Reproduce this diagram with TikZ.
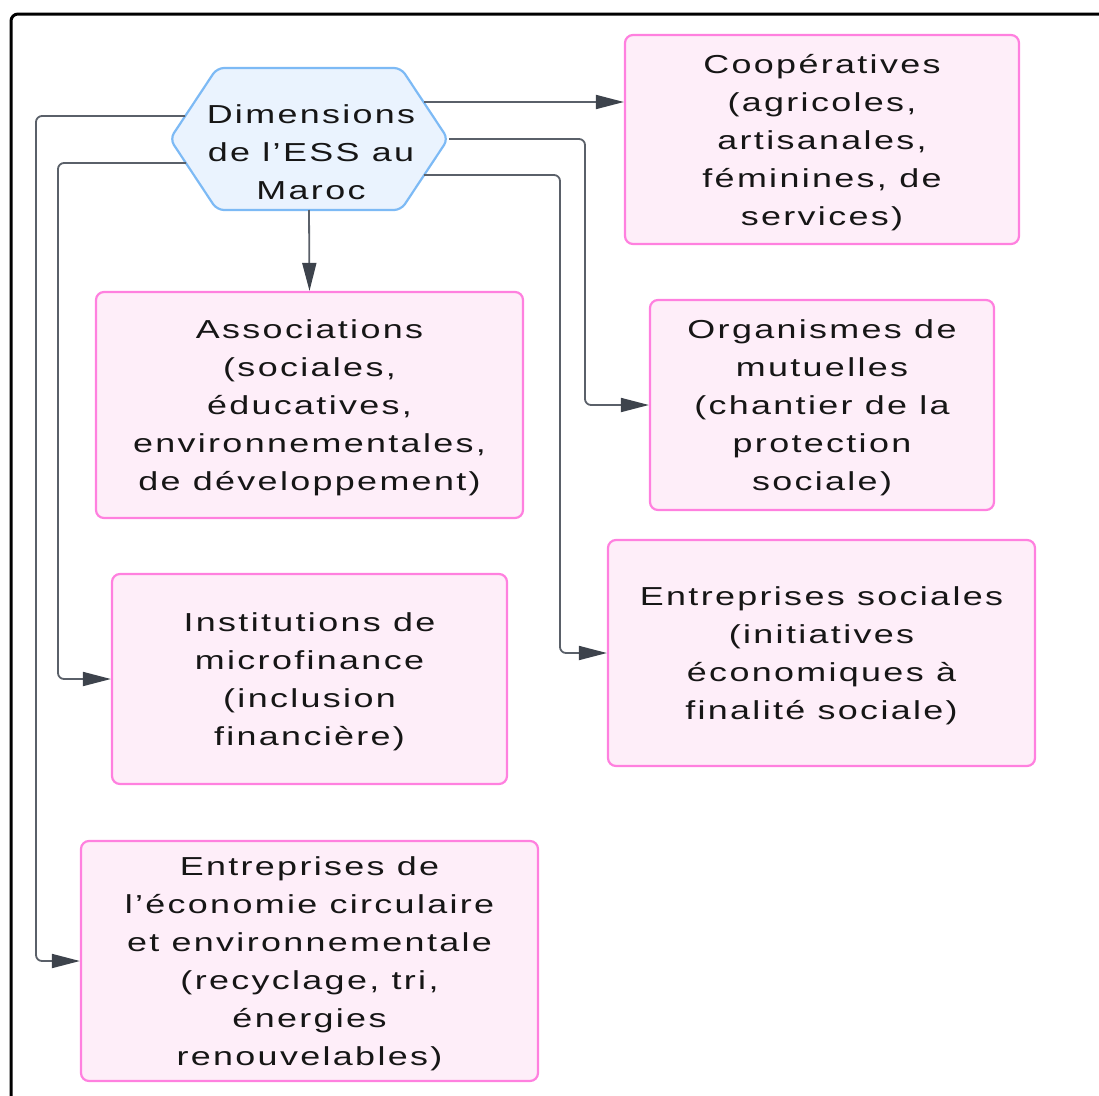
\documentclass[tikz,border=0pt]{standalone}
\usepackage{fontspec}
\setmainfont{Liberation Sans}
\newfontfamily\lblfont[FakeStretch=1.38,LetterSpace=9]{Liberation Sans}
\usetikzlibrary{arrows.meta,calc}
\definecolor{boxfill}{HTML}{FEEEF9}
\definecolor{boxline}{HTML}{FF80DF}
\definecolor{hexfill}{HTML}{EAF3FE}
\definecolor{hexline}{HTML}{7DBAF5}
\definecolor{connline}{HTML}{5A6069}
\definecolor{tipcol}{HTML}{3D434C}
\definecolor{txt}{HTML}{161616}
\tikzset{
  lbl/.style={font=\lblfont\fontsize{26}{38}\selectfont, text=txt, align=center},
  pinkbox/.style={lbl, draw=boxline, fill=boxfill, line width=2.2pt, rounded corners=8pt, inner sep=0pt, text depth=0pt},
  conn/.style={draw=connline, line width=1.8pt, rounded corners=6pt, -{Triangle[length=28pt,width=14pt,color=tipcol]}},
}
\begin{document}
\begin{tikzpicture}[x=1pt,y=-1pt]
\useasboundingbox (0,0) rectangle (1099,1095);
\begin{scope}
\clip (0,0) rectangle (1099,1095);
\draw[line width=3pt, rounded corners=7pt] (11,1110) -- (11,14) -- (1110,14);
\end{scope}
% hexagon
\coordinate (hex) at (309,139);
\draw[draw=hexline, fill=hexfill, line width=2.2pt, rounded corners=7pt]
  ($(hex)+(-139,0)$) -- ($(hex)+(-92,-71)$) -- ($(hex)+(92,-71)$) -- ($(hex)+(139,0)$)
  -- ($(hex)+(92,71)$) -- ($(hex)+(-92,71)$) -- cycle;
\node[lbl] (hextext) at (311,152) {Dimensions\\de l’ESS au\\Maroc};
\coordinate (hx1) at ($(hex)+(115,-37)$);
\coordinate (hx2) at ($(hex)+(140,0)$);
\coordinate (hx3) at ($(hex)+(115,36)$);
\coordinate (hx4) at ($(hex)+(-124,-23)$);
\coordinate (hx5) at ($(hex)+(-123,24)$);
\coordinate (hxs) at ($(hex)+(0,71)$);
% boxes
\node[pinkbox, minimum width=394pt, minimum height=209pt] (coop) at (822,139.5)
  {Coopératives\\(agricoles,\\artisanales,\\féminines, de\\services)};
\node[pinkbox, minimum width=427pt, minimum height=226pt] (assoc) at (309.5,405)
  {Associations\\(sociales,\\éducatives,\\environnementales,\\de développement)};
\node[pinkbox, minimum width=344pt, minimum height=210pt] (org) at (822,405)
  {Organismes de\\mutuelles\\(chantier de la\\protection\\sociale)};
\node[pinkbox, minimum width=395pt, minimum height=210pt] (inst) at (309.5,679)
  {Institutions de\\microfinance\\(inclusion\\financière)};
\node[pinkbox, minimum width=427pt, minimum height=226pt] (entsoc) at (821.5,653)
  {Entreprises sociales\\(initiatives\\économiques à\\finalité sociale)};
\node[pinkbox, minimum width=457pt, minimum height=240pt] (eco) at (309.5,961)
  {Entreprises de\\l’économie circulaire\\et environnementale\\(recyclage, tri,\\énergies\\renouvelables)};
% connectors
\draw[conn] (hx1) -- (hx1 -| coop.west);
\draw[conn] (hx2) -- (585,139) |- (org.west);
\draw[conn] (hx3) -- (560,175) |- (entsoc.west);
\draw[conn] (hxs) -- (assoc.north);
\draw[conn] (hx4) -- (36,116) |- (eco.west);
\draw[conn] (hx5) -- (58,163) |- (inst.west);
\end{tikzpicture}
\end{document}
